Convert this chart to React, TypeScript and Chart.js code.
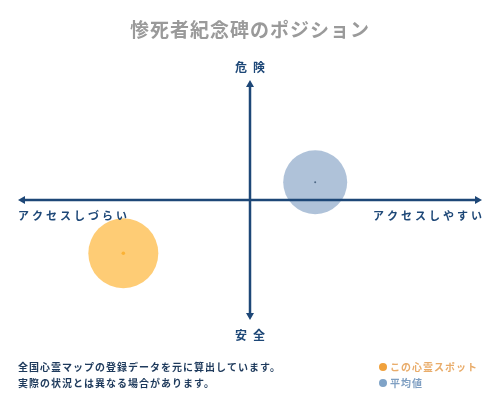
import React, { useEffect, useRef } from "react";
import { Chart, registerables } from "chart.js";

Chart.register(...registerables);

const titleText = "惨死者紀念碑のポジション";
const topLabel = "危険";
const bottomLabel = "安全";
const leftLabel = "アクセスしづらい";
const rightLabel = "アクセスしやすい";
const noteLines = ["全国心霊マップの登録データを元に算出しています。", "実際の状況とは異なる場合があります。"];
const legendLabels = ["この心霊スポット", "平均値"];

const spotX = [-0.546];
const spotY = [-0.444];
const spotR = [35];
const avgX = [0.281];
const avgY = [0.148];
const avgR = [32];

const FONT = '"Noto Sans CJK JP", "Noto Sans", sans-serif';
const NAVY = "#1d4777";

const decorPlugin = {
  id: "decor",
  beforeDraw(chart: any) {
    const ctx = chart.ctx;
    ctx.save();
    ctx.fillStyle = "#ffffff";
    ctx.fillRect(0, 0, chart.width, chart.height);
    ctx.restore();
  },
  afterDatasetsDraw(chart: any) {
    const { ctx, chartArea } = chart;
    const xs = chart.scales.x;
    const ys = chart.scales.y;
    const cx = xs.getPixelForValue(0);
    const cy = ys.getPixelForValue(0);
    const L = chartArea.left, R = chartArea.right, T = chartArea.top, B = chartArea.bottom;
    ctx.save();
    ctx.strokeStyle = NAVY;
    ctx.fillStyle = NAVY;
    ctx.lineWidth = 2.5;
    ctx.beginPath();
    ctx.moveTo(L + 5, cy);
    ctx.lineTo(R - 5, cy);
    ctx.moveTo(cx, T + 5);
    ctx.lineTo(cx, B - 5);
    ctx.stroke();
    const ah = 7, aw = 4;
    ctx.beginPath();
    ctx.moveTo(L, cy); ctx.lineTo(L + ah, cy - aw); ctx.lineTo(L + ah, cy + aw); ctx.closePath();
    ctx.moveTo(R, cy); ctx.lineTo(R - ah, cy - aw); ctx.lineTo(R - ah, cy + aw); ctx.closePath();
    ctx.moveTo(cx, T); ctx.lineTo(cx - aw, T + ah); ctx.lineTo(cx + aw, T + ah); ctx.closePath();
    ctx.moveTo(cx, B); ctx.lineTo(cx - aw, B - ah); ctx.lineTo(cx + aw, B - ah); ctx.closePath();
    ctx.fill();

    // title
    ctx.textBaseline = "middle";
    ctx.textAlign = "center";
    ctx.fillStyle = "#9a9a9a";
    ctx.font = `bold 19px ${FONT}`;
    (ctx as any).letterSpacing = "1px";
    ctx.fillText(titleText, 250, 30);

    // axis labels
    ctx.fillStyle = NAVY;
    ctx.font = `bold 12px ${FONT}`;
    (ctx as any).letterSpacing = "6px";
    ctx.fillText(topLabel, cx + 3, 67);
    ctx.fillText(bottomLabel, cx + 3, 335);
    ctx.font = `bold 11px ${FONT}`;
    (ctx as any).letterSpacing = "3px";
    ctx.textAlign = "left";
    ctx.fillText(leftLabel, L, 216);
    ctx.textAlign = "right";
    ctx.fillText(rightLabel, R + 3, 216);

    // notes
    ctx.textAlign = "left";
    ctx.fillStyle = "#1e3a5c";
    ctx.font = `bold 10px ${FONT}`;
    (ctx as any).letterSpacing = "1px";
    ctx.fillText(noteLines[0], 18, 367);
    ctx.fillText(noteLines[1], 18, 383);

    // legend
    ctx.beginPath();
    ctx.fillStyle = "#f0a13c";
    ctx.arc(383, 367, 4, 0, Math.PI * 2);
    ctx.fill();
    ctx.beginPath();
    ctx.fillStyle = "#7fa3c7";
    ctx.arc(383, 383, 4, 0, Math.PI * 2);
    ctx.fill();
    ctx.font = `bold 10px ${FONT}`;
    ctx.fillStyle = "#e9ac6a";
    ctx.fillText(legendLabels[0], 390, 367);
    ctx.fillStyle = "#7f9fc2";
    ctx.fillText(legendLabels[1], 390, 383);
    ctx.restore();
  },
};

export default function App() {
  const ref = useRef<HTMLCanvasElement>(null);
  useEffect(() => {
    document.body.style.margin = "0";
    const chart = new Chart(ref.current as HTMLCanvasElement, {
      type: "bubble",
      data: {
        datasets: [
          {
            label: legendLabels[0],
            data: spotX.map((x, i) => ({ x, y: spotY[i], r: spotR[i] })),
            backgroundColor: "rgba(253, 184, 64, 0.72)",
            borderWidth: 0,
            clip: false,
          } as any,
          {
            label: legendLabels[1],
            data: avgX.map((x, i) => ({ x, y: avgY[i], r: avgR[i] })),
            backgroundColor: "rgba(118, 150, 190, 0.58)",
            borderWidth: 0,
            clip: false,
          } as any,
          {
            label: "spot-center",
            data: spotX.map((x, i) => ({ x, y: spotY[i], r: 1.8 })),
            backgroundColor: "#f3a019",
            borderWidth: 0,
            clip: false,
          } as any,
          {
            label: "avg-center",
            data: avgX.map((x, i) => ({ x, y: avgY[i], r: 1 })),
            backgroundColor: "#1a2a3a",
            borderWidth: 0,
            clip: false,
          } as any,
        ],
      },
      options: {
        animation: false,
        responsive: false,
        devicePixelRatio: 1,
        layout: { autoPadding: false, padding: { left: 18, right: 18, top: 80, bottom: 80 } },
        scales: {
          x: { type: "linear", min: -1, max: 1, display: false },
          y: { type: "linear", min: -1, max: 1, display: false },
        },
        plugins: {
          legend: { display: false },
          title: { display: false },
          tooltip: { enabled: false },
        },
      } as any,
      plugins: [decorPlugin],
    });
    return () => chart.destroy();
  }, []);
  return (
    <div style={{ position: "absolute", left: 0, top: 0, width: 500, height: 400 }}>
      <canvas ref={ref} width={500} height={400} style={{ width: 500, height: 400 }} />
    </div>
  );
}
